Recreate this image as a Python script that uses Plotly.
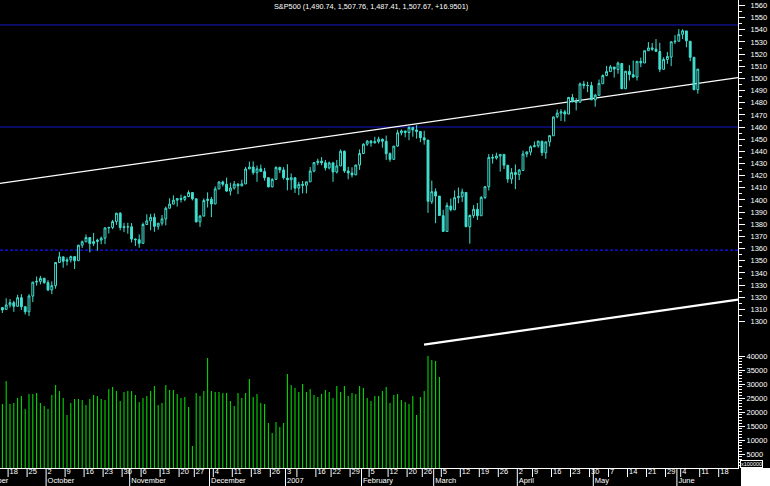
import pandas as pd
import plotly.graph_objects as go

# ---------------- calendar (trading days) ----------------
HOLIDAYS = ["2006-09-04", "2006-11-23", "2006-12-25", "2007-01-01", "2007-01-02",
            "2007-01-15", "2007-02-19", "2007-04-06", "2007-05-28"]
calendar = [d.strftime("%Y-%m-%d") for d in pd.bdate_range("2006-09-01", "2007-06-29")
            if d.strftime("%Y-%m-%d") not in HOLIDAYS]
FIRST_DAY = "2006-09-13"
LAST_DAY = "2007-06-08"
dates = calendar[calendar.index(FIRST_DAY): calendar.index(LAST_DAY) + 1]


def pos(d):
    return calendar.index(d) - calendar.index(FIRST_DAY)


# ---------------- price data (S&P500 daily) ----------------
opens = [1306.0, 1311.5, 1310.0, 1313.6, 1315.5, 1312.5, 1319.6, 1312.2, 1308.0, 1320.9,
         1332.4, 1333.0, 1335.5, 1332.0, 1326.0, 1329.5, 1348.5, 1353.2, 1349.6, 1350.7,
         1353.4, 1350.0, 1362.8, 1365.6, 1369.1, 1364.1, 1365.8, 1367.0, 1368.6, 1377.0,
         1377.4, 1382.2, 1389.1, 1377.3, 1377.9, 1377.9, 1367.8, 1367.3, 1364.3, 1379.8,
         1382.8, 1385.7, 1378.3, 1380.9, 1384.4, 1393.2, 1396.6, 1399.8, 1401.2, 1400.5,
         1402.8, 1406.1, 1401.0, 1382.0, 1386.7, 1399.5, 1400.6, 1396.7, 1409.1, 1414.8,
         1412.9, 1407.3, 1409.8, 1413.0, 1411.6, 1413.2, 1425.5, 1427.1, 1422.5, 1425.6,
         1423.5, 1418.3, 1410.8, 1416.9, 1426.8, 1424.7, 1418.0, 1416.6, 1418.3, 1409.7,
         1412.8, 1412.1, 1414.9, 1423.8, 1430.7, 1431.9, 1430.6, 1426.4, 1430.5, 1423.0,
         1428.0, 1440.1, 1423.9, 1422.2, 1420.6, 1428.8, 1438.2, 1445.9, 1448.4, 1447.0,
         1448.0, 1450.0, 1448.3, 1438.1, 1433.4, 1444.3, 1455.3, 1456.8, 1455.5, 1459.7,
         1457.6, 1456.4, 1451.2, 1449.3, 1398.6, 1406.8, 1403.2, 1387.1, 1374.1, 1395.0,
         1391.9, 1401.9, 1402.8, 1406.2, 1377.9, 1387.1, 1392.3, 1387.0, 1402.0, 1410.9,
         1435.0, 1434.5, 1436.1, 1437.5, 1428.6, 1417.2, 1422.5, 1420.8, 1424.3, 1437.8,
         1439.4, 1443.8, 1444.6, 1448.2, 1438.9, 1447.8, 1452.8, 1468.5, 1471.5, 1472.5,
         1470.7, 1484.3, 1480.9, 1480.4, 1495.3, 1494.2, 1494.1, 1482.4, 1486.1, 1495.6,
         1502.4, 1505.6, 1509.4, 1507.3, 1512.3, 1491.5, 1505.8, 1503.1, 1501.2, 1514.0,
         1512.7, 1522.8, 1525.1, 1524.1, 1522.1, 1507.5, 1515.6, 1517.6, 1530.2, 1530.6,
         1536.3, 1539.1, 1530.6, 1517.4, 1490.74]
highs = [1313.0, 1311.9, 1319.1, 1318.5, 1317.0, 1322.0, 1322.5, 1312.2, 1322.5, 1332.6,
         1337.0, 1337.5, 1336.0, 1334.0, 1333.0, 1349.0, 1357.4, 1353.2, 1352.7, 1354.2,
         1353.4, 1363.0, 1366.6, 1371.6, 1369.1, 1372.9, 1368.1, 1369.9, 1377.4, 1377.8,
         1383.6, 1389.5, 1390.0, 1381.2, 1381.2, 1381.0, 1368.4, 1371.7, 1381.4, 1388.2,
         1388.6, 1388.9, 1381.0, 1387.6, 1394.5, 1401.4, 1403.8, 1401.2, 1404.4, 1403.5,
         1407.9, 1406.1, 1401.0, 1387.6, 1401.3, 1406.3, 1402.5, 1411.2, 1415.3, 1415.9,
         1418.3, 1414.1, 1415.6, 1413.8, 1416.6, 1427.2, 1431.6, 1431.8, 1428.3, 1429.1,
         1426.4, 1418.8, 1417.9, 1427.7, 1427.3, 1427.0, 1429.4, 1421.8, 1418.3, 1415.0,
         1415.6, 1415.0, 1427.1, 1431.2, 1433.9, 1435.3, 1432.9, 1431.6, 1431.4, 1432.9,
         1441.6, 1440.7, 1427.3, 1426.9, 1428.8, 1441.6, 1446.6, 1449.3, 1449.4, 1452.0,
         1452.0, 1450.5, 1453.0, 1439.1, 1444.4, 1457.7, 1458.0, 1456.8, 1460.5, 1459.7,
         1461.6, 1456.4, 1456.9, 1449.3, 1415.9, 1409.5, 1403.2, 1391.9, 1397.9, 1401.2,
         1407.9, 1410.2, 1409.3, 1406.2, 1388.1, 1395.7, 1397.5, 1403.2, 1411.5, 1437.8,
         1437.7, 1438.9, 1437.7, 1437.5, 1428.6, 1426.2, 1429.2, 1425.5, 1440.6, 1440.2,
         1444.9, 1448.1, 1448.7, 1448.9, 1448.0, 1453.1, 1468.6, 1474.4, 1474.7, 1474.2,
         1484.7, 1487.3, 1483.8, 1496.6, 1498.0, 1497.3, 1497.2, 1487.3, 1499.1, 1503.3,
         1510.3, 1511.0, 1509.4, 1513.8, 1512.3, 1506.2, 1510.9, 1514.8, 1514.2, 1517.1,
         1522.8, 1529.9, 1529.2, 1532.4, 1529.3, 1517.4, 1521.8, 1530.2, 1535.6, 1540.6,
         1540.5, 1539.1, 1530.6, 1517.4, 1507.76]
lows = [1306.0, 1307.0, 1309.5, 1311.5, 1308.0, 1312.2, 1309.5, 1305.8, 1304.5, 1316.0,
        1329.5, 1330.5, 1331.0, 1325.0, 1322.5, 1327.0, 1348.5, 1344.2, 1346.1, 1348.6,
        1343.2, 1350.0, 1360.5, 1365.6, 1356.9, 1362.1, 1358.3, 1363.6, 1363.7, 1372.4,
        1376.0, 1379.5, 1375.0, 1373.5, 1372.2, 1365.0, 1362.2, 1360.7, 1364.3, 1379.8,
        1375.0, 1373.8, 1375.6, 1378.8, 1379.1, 1393.1, 1396.6, 1394.6, 1397.9, 1399.0,
        1402.3, 1399.6, 1381.4, 1377.8, 1386.7, 1393.8, 1385.9, 1396.7, 1408.8, 1411.1,
        1406.8, 1403.7, 1408.6, 1404.8, 1411.3, 1413.2, 1425.5, 1420.7, 1414.9, 1423.5,
        1415.9, 1410.3, 1410.4, 1416.6, 1422.1, 1416.8, 1407.9, 1408.4, 1405.8, 1404.0,
        1405.4, 1405.4, 1414.8, 1422.8, 1428.6, 1428.6, 1424.2, 1425.2, 1414.9, 1421.8,
        1428.0, 1422.3, 1417.0, 1418.5, 1420.6, 1424.8, 1437.9, 1444.5, 1443.8, 1446.4,
        1446.4, 1443.0, 1433.0, 1431.4, 1433.2, 1443.8, 1453.2, 1451.6, 1449.2, 1452.0,
        1450.5, 1447.5, 1445.5, 1389.4, 1396.7, 1380.9, 1386.9, 1374.0, 1374.1, 1390.6,
        1391.9, 1397.3, 1398.4, 1377.7, 1364.0, 1385.2, 1383.6, 1387.0, 1400.7, 1407.8,
        1429.9, 1433.2, 1423.3, 1425.5, 1414.1, 1413.3, 1408.9, 1416.4, 1424.3, 1435.1,
        1436.7, 1443.3, 1443.0, 1436.2, 1433.9, 1444.0, 1452.8, 1467.2, 1465.0, 1464.5,
        1470.7, 1480.2, 1473.7, 1480.4, 1491.5, 1488.7, 1482.3, 1476.7, 1486.1, 1495.6,
        1501.8, 1505.5, 1500.7, 1503.8, 1491.4, 1491.5, 1498.3, 1500.4, 1498.3, 1509.3,
        1512.7, 1522.7, 1522.6, 1522.1, 1505.2, 1507.5, 1512.0, 1510.1, 1528.4, 1530.6,
        1532.4, 1525.6, 1514.1, 1490.4, 1487.41]
closes = [1311.0, 1309.5, 1313.6, 1315.5, 1312.5, 1319.6, 1312.2, 1308.0, 1320.9, 1332.4,
          1333.0, 1335.5, 1332.0, 1326.0, 1329.5, 1348.5, 1353.2, 1349.6, 1350.7, 1353.4,
          1350.0, 1362.8, 1365.6, 1369.1, 1364.1, 1365.8, 1367.0, 1368.6, 1377.0, 1377.4,
          1382.2, 1389.1, 1377.3, 1377.9, 1377.9, 1367.8, 1367.3, 1364.3, 1379.8, 1382.8,
          1385.7, 1378.3, 1380.9, 1384.4, 1393.2, 1396.6, 1399.8, 1401.2, 1400.5, 1402.8,
          1406.1, 1401.0, 1382.0, 1386.7, 1399.5, 1400.6, 1396.7, 1409.1, 1414.8, 1412.9,
          1407.3, 1409.8, 1413.0, 1411.6, 1413.2, 1425.5, 1427.1, 1422.5, 1425.6, 1423.5,
          1418.3, 1410.8, 1416.9, 1426.8, 1424.7, 1418.3, 1416.6, 1418.3, 1409.7, 1412.8,
          1412.1, 1414.9, 1423.8, 1430.7, 1431.9, 1430.6, 1426.4, 1430.5, 1423.0, 1428.0,
          1440.1, 1423.9, 1422.2, 1420.6, 1428.8, 1438.2, 1445.9, 1448.4, 1447.0, 1448.0,
          1450.0, 1448.3, 1438.1, 1433.4, 1444.3, 1455.3, 1456.8, 1455.5, 1459.7, 1457.6,
          1456.4, 1451.2, 1449.4, 1399.0, 1406.8, 1403.2, 1387.2, 1374.1, 1395.4, 1392.0,
          1401.9, 1402.8, 1406.6, 1378.0, 1387.2, 1392.3, 1387.0, 1402.1, 1410.9, 1435.0,
          1434.5, 1436.1, 1437.5, 1428.6, 1417.2, 1422.5, 1420.9, 1424.6, 1437.8, 1439.4,
          1443.8, 1444.6, 1448.4, 1438.9, 1447.8, 1452.9, 1468.3, 1471.5, 1472.5, 1470.7,
          1484.4, 1480.9, 1480.4, 1495.4, 1494.3, 1494.1, 1482.4, 1486.3, 1495.9, 1502.4,
          1505.6, 1509.5, 1507.7, 1512.6, 1491.5, 1505.9, 1503.2, 1501.2, 1514.1, 1512.8,
          1522.8, 1525.1, 1524.1, 1522.3, 1507.5, 1515.7, 1518.1, 1530.2, 1530.6, 1536.3,
          1539.2, 1531.0, 1517.4, 1490.7, 1507.67]

# volume (x100000), available through 2 March 2007
volumes = [27000, 22900, 31100, 22900, 23200, 25000, 25700, 21100, 26400, 26400,
           26800, 23200, 22100, 21100, 26100, 29600, 27500, 25000, 18900, 23200,
           24600, 24600, 24300, 22500, 24600, 26100, 25700, 24600, 24300, 28200,
           28900, 27500, 23900, 27100, 27500, 27500, 26100, 23600, 25000, 25700,
           27500, 29300, 22500, 23200, 29600, 27900, 27900, 26400, 25000, 25400,
           21800, 7900, 26800, 25700, 27500, 39300, 27500, 27100, 27100, 26800,
           26800, 23900, 22100, 26800, 25000, 26800, 31800, 25400, 26400, 23200,
           22900, 16100, 12500, 16400, 14600, 16100, 33600, 29600, 28600, 27100,
           30000, 27100, 28200, 26100, 25400, 26400, 27900, 27100, 25000, 29300,
           27100, 29300, 25700, 26800, 26400, 29300, 28600, 25000, 23900, 25700,
           25700, 27500, 28900, 23200, 26100, 26400, 24300, 23600, 22900, 25700,
           18900, 25400, 27500, 40000, 38600, 38200, 32500]

# axis ticks / labels
price_ticks = list(range(1300, 1561, 10))
price_minor = list(range(1305, 1556, 10))
vol_ticks = list(range(5000, 40001, 5000))
vol_minor = [v for v in range(1000, 40000, 1000) if v % 5000]

day_dates = ["2006-09-18", "2006-09-25", "2006-10-02", "2006-10-09", "2006-10-16", "2006-10-23",
             "2006-10-30", "2006-11-06", "2006-11-13", "2006-11-20", "2006-11-27", "2006-12-04",
             "2006-12-11", "2006-12-18", "2006-12-26", "2007-01-03", "2007-01-08", "2007-01-16",
             "2007-01-22", "2007-01-29", "2007-02-05", "2007-02-12", "2007-02-20", "2007-02-26",
             "2007-03-05", "2007-03-12", "2007-03-19", "2007-03-26", "2007-04-02", "2007-04-09",
             "2007-04-16", "2007-04-23", "2007-04-30", "2007-05-07", "2007-05-14", "2007-05-21",
             "2007-05-29", "2007-06-04", "2007-06-11", "2007-06-18"]
day_text = ["18", "25", "2", "9", "16", "23", "30", "6", "13", "20", "27", "4", "11", "18", "26",
            "3", "", "16", "22", "29", "5", "12", "20", "26", "5", "12", "19", "26", "2", "9",
            "16", "23", "30", "7", "14", "21", "29", "4", "11", "18"]
month_dates = ["2006-09-01", "2006-10-02", "2006-11-01", "2006-12-01", "2007-01-03",
               "2007-02-01", "2007-03-01", "2007-04-02", "2007-05-01", "2007-06-01"]
month_text = ["September", "October", "November", "December", "2007",
              "February", "March", "April", "May", "June"]

# reference lines
level_lines = [1544.0, 1460.0]
support_line = 1358.8
trend_dates = ["2006-09-13", "2007-06-08"]
trend_prices = [1413.4, 1495.9]
channel_start = "2007-02-26"
channel_offset = -182.6

title_text = "S&amp;P500 (1,490.74, 1,507.76, 1,487.41, 1,507.67, +16.9501)"

# ---------------- geometry ----------------
W, H = 770, 486
R_MARGIN = 32
STRIP = 18
X_LO, X_HI = 0.368, 194.58
P_LO, P_HI = 1179.46, 1564.53
V_HI = 167143

TURQ = "#40E0D0"
GREEN = "#00e000"
WHITE = "#ffffff"

fig = go.Figure()

candle_x = [pos(d) for d in dates]
fig.add_trace(go.Candlestick(
    x=candle_x, open=opens, high=highs, low=lows, close=closes,
    increasing=dict(line=dict(color=TURQ, width=1), fillcolor="black"),
    decreasing=dict(line=dict(color=TURQ, width=1), fillcolor=TURQ),
    whiskerwidth=0, xaxis="x", yaxis="y", hoverinfo="skip", showlegend=False))

vol_x = [pos(d) for d in dates[:len(volumes)]]
fig.add_trace(go.Bar(x=vol_x, y=volumes, width=0.28, marker=dict(color=GREEN, line=dict(width=0)),
                     xaxis="x", yaxis="y2", hoverinfo="skip", showlegend=False))

# bottom date strip
sep_day = sorted(set([pos(d) for d in day_dates] +
                     [pos(d) for d in month_dates if calendar.index(d) >= calendar.index(FIRST_DAY)]))
sx, sy = [], []
for p in sep_day:
    sx += [p - 0.5, p - 0.5, None]
    sy += [9, 18, None]
fig.add_trace(go.Scatter(x=sx, y=sy, mode="lines", line=dict(color=WHITE, width=1),
                         xaxis="x", yaxis="y3", hoverinfo="skip", showlegend=False))
mx, my = [], []
for d in month_dates:
    p = pos(d)
    mx += [p - 0.5, p - 0.5, None]
    my += [0, 9, None]
fig.add_trace(go.Scatter(x=mx, y=my, mode="lines", line=dict(color=WHITE, width=1),
                         xaxis="x", yaxis="y3", hoverinfo="skip", showlegend=False))
LBL_FONT = dict(family="Liberation Sans Narrow, Liberation Sans, Arial", size=7.5, color=WHITE)
fig.add_trace(go.Scatter(x=[pos(d) - 0.1 for d in day_dates], y=[13.4] * len(day_dates),
                         text=day_text, mode="text", textposition="middle right",
                         textfont=LBL_FONT, xaxis="x", yaxis="y3", hoverinfo="skip", showlegend=False))
fig.add_trace(go.Scatter(x=[pos(d) - 0.1 for d in month_dates], y=[4.4] * len(month_dates),
                         text=month_text, mode="text", textposition="middle right",
                         textfont=LBL_FONT, xaxis="x", yaxis="y3", hoverinfo="skip", showlegend=False))

# ---------------- shapes ----------------
shapes = []
for lv in level_lines:
    shapes.append(dict(type="line", xref="x", yref="y", x0=X_LO, x1=X_HI, y0=lv, y1=lv,
                       line=dict(color="#1818c8", width=1), layer="below"))
shapes.append(dict(type="line", xref="x", yref="y", x0=X_LO, x1=X_HI, y0=support_line, y1=support_line,
                   line=dict(color="#1010ff", width=1.2, dash="3px,2px"), layer="below"))

t0, t1 = pos(trend_dates[0]), pos(trend_dates[1])
slope = (trend_prices[1] - trend_prices[0]) / (t1 - t0)


def trend(x):
    return trend_prices[0] + (x - t0) * slope


shapes.append(dict(type="line", xref="x", yref="y", x0=X_LO, x1=X_HI, y0=trend(X_LO), y1=trend(X_HI),
                   line=dict(color=WHITE, width=1.2), layer="below"))
c0 = pos(channel_start) - 0.05
shapes.append(dict(type="line", xref="x", yref="y", x0=c0, x1=X_HI,
                   y0=trend(c0) + channel_offset, y1=trend(X_HI) + channel_offset,
                   line=dict(color=WHITE, width=2.2), layer="above"))
# white corner box under the value axis
plot_w = W - R_MARGIN
shapes.append(dict(type="rect", xref="paper", yref="paper", x0=741 / plot_w, x1=W / plot_w,
                   y0=0, y1=STRIP / H, fillcolor=WHITE, line=dict(width=0), layer="above"))

annotations = [
    dict(text=title_text, xref="paper", yref="paper", x=370.5 / plot_w, y=1 - 6.0 / H,
         xanchor="center", yanchor="middle", showarrow=False,
         font=dict(family="Liberation Sans, Arial", size=7.3, color=WHITE)),
    dict(text="x100000", xref="paper", yref="paper", x=751 / plot_w, y=1 - 463.5 / H,
         xanchor="center", yanchor="middle", showarrow=False, bordercolor=WHITE, borderwidth=1,
         borderpad=0, bgcolor="black",
         font=dict(family="Liberation Sans, Arial", size=5.5, color=WHITE)),
]

AX_FONT = dict(family="Liberation Sans, Arial", size=7.5, color=WHITE)
main_dom = [STRIP / H, 1]

fig.update_layout(
    template="none",
    width=W, height=H,
    margin=dict(l=0, r=R_MARGIN, t=0, b=0, pad=0),
    paper_bgcolor="black", plot_bgcolor="black",
    showlegend=False, hovermode=False,
    font=dict(family="Liberation Sans, Arial", color=WHITE),
    xaxis=dict(range=[X_LO, X_HI], domain=[0, 1], anchor="y", showgrid=False, zeroline=False,
               showticklabels=False, ticks="", showline=True, linecolor=WHITE, linewidth=1,
               rangeslider=dict(visible=False), automargin=False, fixedrange=True),
    yaxis=dict(range=[P_LO, P_HI], domain=main_dom, anchor="x", side="right",
               showgrid=False, zeroline=False, showline=True, linecolor=WHITE, linewidth=1,
               ticks="outside", ticklen=6, tickwidth=1, tickcolor=WHITE,
               tickmode="array", tickvals=price_ticks, ticktext=[str(v) for v in price_ticks],
               tickfont=AX_FONT, ticklabelstandoff=4,
               minor=dict(tickmode="array", tickvals=price_minor, ticks="outside", ticklen=3,
                          tickcolor=WHITE, tickwidth=1, showgrid=False),
               automargin=False, fixedrange=True),
    yaxis2=dict(range=[0, V_HI], overlaying="y", anchor="x", side="right",
                showgrid=False, zeroline=False, showline=False,
                ticks="outside", ticklen=6, tickwidth=1, tickcolor=WHITE,
                tickmode="array", tickvals=vol_ticks, ticktext=[str(v) for v in vol_ticks],
                tickfont=AX_FONT,
                minor=dict(tickmode="array", tickvals=vol_minor, ticks="outside", ticklen=3,
                           tickcolor=WHITE, tickwidth=1, showgrid=False),
                automargin=False, fixedrange=True),
    yaxis3=dict(range=[0, STRIP], domain=[0, STRIP / H], anchor="x", visible=False,
                fixedrange=True),
    boxgap=0.3,
    shapes=shapes,
    annotations=annotations,
)

fig.write_html("out.html", config=dict(displayModeBar=False, staticPlot=True),
               post_script="document.body.style.margin='0';document.body.style.overflow='hidden';")
